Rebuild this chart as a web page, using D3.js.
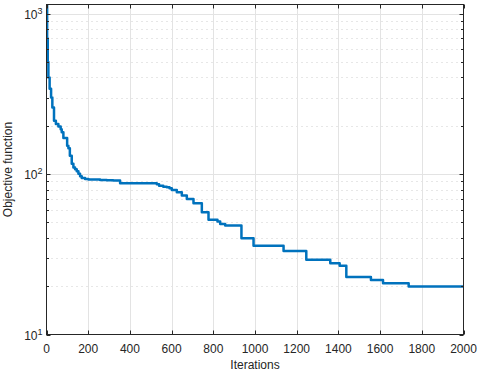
<!DOCTYPE html>
<html>
<head>
<meta charset="utf-8">
<script src="https://cdn.jsdelivr.net/npm/d3@7"></script>
<style>
  body { margin: 0; background: #fff; }
  text { font-family: "Liberation Sans", Arial, sans-serif; fill: #262626; }
</style>
</head>
<body>
<div id="chart"></div>
<script>
// iteration at which each new best value starts
var iters = [0, 3, 6, 9, 15, 22, 28, 36, 45, 57, 68, 73, 81, 99, 105, 112, 121, 129, 137, 145,
  153, 161, 169, 185, 201, 257, 289, 320, 353, 529, 540, 560, 577, 590, 601, 625, 649, 673,
  705, 745, 777, 820, 833, 857, 935, 993, 1137, 1246, 1361, 1406, 1438, 1556, 1614, 1737, 2000];
// best objective value found so far
var vals = [1300, 700, 500, 400, 340, 300, 260, 215, 205, 198, 190, 182, 168, 150, 145, 130, 116, 110, 107, 104,
  100.5, 97, 94.5, 93, 92.5, 91.9, 91.5, 91.2, 87.7, 86.5, 84.5, 83.5, 82.8, 81.5, 79.6, 77, 73.5, 70,
  65.8, 57.9, 51.9, 50.6, 48.9, 47.8, 39.8, 35.7, 33.1, 29.2, 27.8, 26.8, 22.8, 21.9, 20.9, 19.9, 19.9];

var xTicks = [0, 200, 400, 600, 800, 1000, 1200, 1400, 1600, 1800, 2000];
var yTicks = [10, 100, 1000];

var width = 480, height = 374;
// plot box edges
var boxL = 46.5, boxR = 463.5, boxT = 4.5, boxB = 334.5;

var svg = d3.select("#chart").append("svg")
    .attr("width", width)
    .attr("height", height);

var x = d3.scaleLinear().domain([0, 2000]).range([boxL, boxR]);
var y = d3.scaleLog().domain([10, 1140]).range([boxB, boxT]);

// minor values between decades
var minor = [];
[10, 100, 1000].forEach(function (d) {
    for (var k = 2; k <= 9; k++) {
        if (d * k < 1140) minor.push(d * k);
    }
});

// grid
var grid = svg.append("g");
grid.selectAll(".ming").data(minor).enter().append("line")
    .attr("x1", boxL).attr("x2", boxR)
    .attr("y1", function (d) { return Math.round(y(d)) + 0.5; })
    .attr("y2", function (d) { return Math.round(y(d)) + 0.5; })
    .attr("stroke", "#cfcfcf").attr("stroke-dasharray", "1,4");
grid.selectAll(".xg").data(xTicks.slice(1, -1)).enter().append("line")
    .attr("x1", function (d) { return Math.round(x(d)) + 0.5; })
    .attr("x2", function (d) { return Math.round(x(d)) + 0.5; })
    .attr("y1", boxT).attr("y2", boxB)
    .attr("stroke", "#e3e3e3");
grid.selectAll(".yg").data([100, 1000]).enter().append("line")
    .attr("x1", boxL).attr("x2", boxR)
    .attr("y1", function (d) { return Math.round(y(d)) + 0.5; })
    .attr("y2", function (d) { return Math.round(y(d)) + 0.5; })
    .attr("stroke", "#e3e3e3");

// data line
var pts = iters.map(function (d, i) { return [d, vals[i]]; });
var line = d3.line()
    .x(function (d) { return x(d[0]); })
    .y(function (d) { return y(d[1]); })
    .curve(d3.curveStepAfter);

svg.append("clipPath").attr("id", "clip").append("rect")
    .attr("x", boxL).attr("y", boxT).attr("width", boxR - boxL).attr("height", boxB - boxT);

svg.append("path").datum(pts)
    .attr("clip-path", "url(#clip)")
    .attr("d", line)
    .attr("fill", "none")
    .attr("stroke", "#0072BD")
    .attr("stroke-width", 2.5)
    .attr("stroke-linejoin", "round");

// box
svg.append("rect")
    .attr("x", boxL).attr("y", boxT)
    .attr("width", boxR - boxL).attr("height", boxB - boxT)
    .attr("fill", "none").attr("stroke", "#262626").attr("stroke-width", 1);

// ticks (inward)
var ticks = svg.append("g").attr("stroke", "#262626");
xTicks.forEach(function (d) {
    var px = Math.round(x(d)) + 0.5;
    ticks.append("line").attr("x1", px).attr("x2", px).attr("y1", boxB).attr("y2", boxB - 4);
    ticks.append("line").attr("x1", px).attr("x2", px).attr("y1", boxT).attr("y2", boxT + 4);
});
yTicks.concat(minor).forEach(function (d) {
    var py = Math.round(y(d)) + 0.5;
    var len = yTicks.indexOf(d) >= 0 ? 4 : 2.5;
    ticks.append("line").attr("x1", boxL).attr("x2", boxL + len).attr("y1", py).attr("y2", py);
    ticks.append("line").attr("x1", boxR).attr("x2", boxR - len).attr("y1", py).attr("y2", py);
});

// x tick labels
svg.selectAll(".xl").data(xTicks).enter().append("text")
    .attr("x", function (d) { return x(d); })
    .attr("y", boxB + 18)
    .attr("text-anchor", "middle")
    .attr("font-size", 12)
    .text(function (d) { return d; });

// y tick labels, 10^n
yTicks.forEach(function (d) {
    var t = svg.append("text")
        .attr("x", boxL - 4)
        .attr("y", y(d) + 5)
        .attr("text-anchor", "end")
        .attr("font-size", 12);
    t.append("tspan").text("10");
    t.append("tspan").attr("dy", -5).attr("font-size", 9).text(Math.round(Math.log10(d)));
});

// axis titles
svg.append("text")
    .attr("x", (boxL + boxR) / 2)
    .attr("y", 369)
    .attr("text-anchor", "middle")
    .attr("font-size", 12)
    .text("Iterations");

svg.append("text")
    .attr("transform", "translate(12," + ((boxT + boxB) / 2) + ") rotate(-90)")
    .attr("text-anchor", "middle")
    .attr("font-size", 12)
    .text("Objective function");
</script>
</body>
</html>
